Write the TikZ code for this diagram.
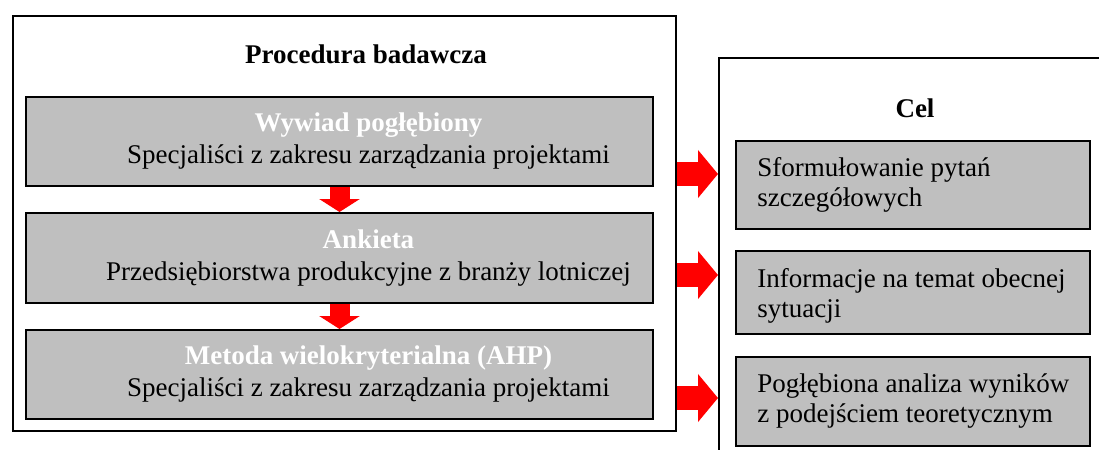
\documentclass[tikz,border=0pt]{standalone}
\usepackage{fontspec}
\setmainfont{Liberation Serif}
\usepackage{tikz}
\usetikzlibrary{positioning}
\usetikzlibrary{arrows.meta}
\definecolor{boxgray}{HTML}{BFBFBF}
\tikzset{>=latex}

\begin{document}
\begin{tikzpicture}[x=0.5pt, y=-0.5pt,
    font=\fontsize{13.5}{16}\selectfont,
    frame/.style={draw, line width=0.75pt},
    graybox/.style={draw, line width=1pt, fill=boxgray, inner sep=0pt},
    celtext/.style={anchor=west, align=left, inner sep=0pt, font=\fontsize{13.5}{15}\selectfont},
    arrowD/.style={red, line width=10pt, -{Triangle[length=6.5pt, width=20pt]}},
    arrowR/.style={red, line width=12pt, -{Triangle[length=10pt, width=23.5pt]}}]
    \useasboundingbox (0,0) rectangle (1099,450);

    % 1. Outer frames (the right one runs past the page edge)
    \node[frame, minimum width=331.5pt, minimum height=207.5pt, anchor=north west] (proc) at (12,15) {};
    \node[frame, minimum width=200pt, minimum height=205pt, anchor=north west] (cel) at (718,57) {};

    % 2. Headings
    \node[anchor=base, font=\fontsize{13.5}{16}\selectfont\bfseries] (procT) at (366,63) {Procedura badawcza};
    \node[anchor=base, font=\fontsize{13.5}{16}\selectfont\bfseries] (celT) at (915,117) {Cel};

    % 3. Steps of the procedure
    \node[graybox, minimum width=313.5pt, minimum height=44.5pt, anchor=north west] (b1) at (25,96) {};
    \node[graybox, minimum width=313.5pt, minimum height=45pt, anchor=north west] (b2) at (25,212) {};
    \node[graybox, minimum width=313.5pt, minimum height=44.5pt, anchor=north west] (b3) at (25,329) {};

    \node[align=center] (t1) at ([xshift=14.5pt]b1.center)
        {\textcolor{white}{\bfseries Wywiad pogłębiony}\\ Specjaliści z zakresu zarządzania projektami};
    \node[align=center] (t2) at ([xshift=14.5pt]b2.center)
        {\textcolor{white}{\bfseries Ankieta}\\ Przedsiębiorstwa produkcyjne z branży lotniczej};
    \node[align=center] (t3) at ([xshift=14.5pt]b3.center)
        {\textcolor{white}{\bfseries Metoda wielokryterialna (AHP)}\\ Specjaliści z zakresu zarządzania projektami};

    % 4. Goals
    \node[graybox, minimum width=177pt, minimum height=44pt, anchor=north west] (c1) at (735,140) {};
    \node[graybox, minimum width=177pt, minimum height=41.5pt, anchor=north west] (c2) at (735,250) {};
    \node[graybox, minimum width=177pt, minimum height=44.5pt, anchor=north west] (c3) at (735,356) {};

    \node[celtext] (s1) at ([xshift=11pt]c1.west) {Sformułowanie pytań\\ szczegółowych};
    \node[celtext] (s2) at ([xshift=11pt,yshift=-1.5pt]c2.west) {Informacje na temat obecnej\\ sytuacji};
    \node[celtext] (s3) at ([xshift=11pt]c3.west) {Pogłębiona analiza wyników\\ z podejściem teoretycznym};

    % 5. Red block arrows
    \draw[arrowD] (b1.south) -- (b2.north);
    \draw[arrowD] (b2.south) -- (b3.north);

    \draw[arrowR] (proc.east |- 0,174) -- (cel.west |- 0,174);
    \draw[arrowR] (proc.east |- 0,275) -- (cel.west |- 0,275);
    \draw[arrowR] (proc.east |- 0,398) -- (cel.west |- 0,398);
\end{tikzpicture}
\end{document}
